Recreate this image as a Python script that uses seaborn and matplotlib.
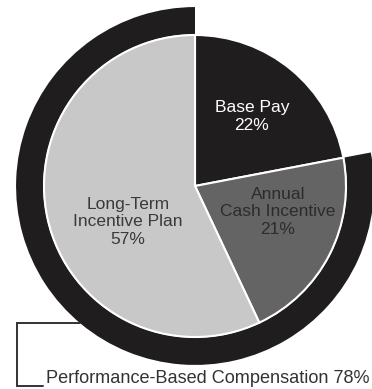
import matplotlib
matplotlib.use("Agg")
import matplotlib.pyplot as plt
import numpy as np
import seaborn as sns

# Pay mix data
categories = ["Base Pay", "Annual\nCash Incentive", "Long-Term\nIncentive Plan"]
shares = [22, 21, 57]
performance_label = "Performance-Based Compensation"
performance_share = 78

sns.set_theme(style="white")
plt.rcParams["font.family"] = ["Liberation Sans", "DejaVu Sans"]

slice_colors = ["#201d1e", "#646464", "#c8c8c8"]
text_colors = ["white", "#2c2c2c", "#3a3a3a"]
ring_color = "#201d1e"
line_color = "#333333"

W, H = 372, 389
scale = 151.0               # pixels per unit radius
cx, cy = 195.0, 186.0       # pie centre in pixels from top-left

fig = plt.figure(figsize=(W / 100, H / 100), dpi=100)
ax = fig.add_axes([0, 0, 1, 1])

# Outer ring marking the performance-based portion
ring_r = 1.185
ring_w = 0.18
ring, _ = ax.pie([100 - performance_share, performance_share], radius=ring_r,
                 startangle=90, counterclock=False,
                 colors=[ring_color, ring_color],
                 wedgeprops=dict(width=ring_w, linewidth=0))
ring[0].set_visible(False)

# Main pie
wedges, _ = ax.pie(shares, radius=1.0, startangle=90, counterclock=False,
                   colors=slice_colors,
                   wedgeprops=dict(edgecolor="white", linewidth=1.5))

ax.set_xlim(-cx / scale, (W - cx) / scale)
ax.set_ylim(-(H - cy) / scale, cy / scale)
ax.set_aspect("auto")
ax.axis("off")

# Slice labels
label_pos = [(0.377, 0.46), (0.55, -0.172), (-0.444, -0.238)]
for cat, val, (x, y), col in zip(categories, shares, label_pos, text_colors):
    ax.text(x, y, f"{cat}\n{val}%", ha="center", va="center",
            multialignment="center", fontsize=12.5, color=col, linespacing=1.2)

# Bracket from ring to the performance-based caption
y_top = -0.907
y_bot = -1.325
x_left = -1.179
x_ring = -np.sqrt(ring_r ** 2 - y_top ** 2)
ax.plot([x_ring, x_left, x_left, -1.007], [y_top, y_top, y_bot, y_bot],
        color=line_color, lw=1.4, solid_joinstyle="miter", clip_on=False)
ax.text(-0.987, -1.305, f"{performance_label} {performance_share}%",
        ha="left", va="baseline", fontsize=13.1, color=line_color)

fig.savefig("out.png", dpi=100, facecolor="white")
